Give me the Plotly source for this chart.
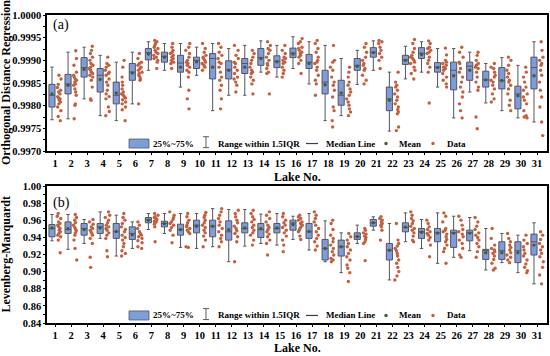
import plotly.graph_objects as go

LAKES = list(range(1, 32))
LAKE_LABELS = [str(k) for k in LAKES]

# ---------------- (a) Orthogonal Distance Regression ----------------
ODR_UF = [0.99885, 0.99918, 0.99929, 0.99911, 0.99896, 0.99918, 0.99941, 0.99937, 0.99937, 0.99929, 0.99937,
          0.99926, 0.99933, 0.99943, 0.99933, 0.99952, 0.99941, 0.99933, 0.99904, 0.99922, 0.99943, 0.99874,
          0.99931, 0.99941, 0.99926, 0.99926, 0.99918, 0.99893, 0.99906, 0.99889, 0.99941]
ODR_Q3 = [0.99847, 0.99869, 0.99906, 0.99882, 0.99852, 0.99893, 0.99926, 0.99918, 0.99911, 0.99907, 0.99915,
          0.99899, 0.99904, 0.99926, 0.99910, 0.99927, 0.99913, 0.99878, 0.99856, 0.99904, 0.99928, 0.99841,
          0.99911, 0.99928, 0.99895, 0.99896, 0.99896, 0.99876, 0.99884, 0.99843, 0.99907]
ODR_MED = [0.99823, 0.99848, 0.99884, 0.99867, 0.99823, 0.99874, 0.99917, 0.99909, 0.99894, 0.99900, 0.99904,
           0.99879, 0.99893, 0.99906, 0.99898, 0.99916, 0.99896, 0.99852, 0.99823, 0.99889, 0.99918, 0.99815,
           0.99901, 0.99916, 0.99885, 0.99878, 0.99887, 0.99857, 0.99856, 0.99826, 0.99884]
ODR_Q1 = [0.99797, 0.99826, 0.99863, 0.99830, 0.99804, 0.99856, 0.99901, 0.99896, 0.99874, 0.99882, 0.99859,
          0.99859, 0.99871, 0.99889, 0.99884, 0.99906, 0.99882, 0.99826, 0.99801, 0.99878, 0.99907, 0.99789,
          0.99891, 0.99904, 0.99874, 0.99835, 0.99856, 0.99841, 0.99837, 0.99793, 0.99837]
ODR_LF = [0.99769, 0.99771, 0.99815, 0.99778, 0.99767, 0.99804, 0.99878, 0.99878, 0.99841, 0.99867, 0.99789,
          0.99823, 0.99823, 0.99874, 0.99863, 0.99882, 0.99848, 0.99767, 0.99778, 0.99847, 0.99878, 0.99744,
          0.99859, 0.99874, 0.99841, 0.99773, 0.99830, 0.99806, 0.99789, 0.99773, 0.99764]
ODR_MEAN = [0.99826, 0.99845, 0.99880, 0.99858, 0.99828, 0.99872, 0.99914, 0.99907, 0.99885, 0.99897, 0.99885,
            0.99878, 0.99885, 0.99904, 0.99897, 0.99914, 0.99893, 0.99846, 0.99828, 0.99887, 0.99917, 0.99812,
            0.99900, 0.99913, 0.99884, 0.99866, 0.99878, 0.99857, 0.99855, 0.99822, 0.99866]
ODR_DATA = [
    [0.99867, 0.99859, 0.99847, 0.99840, 0.99834, 0.99830, 0.99826, 0.99820, 0.99817, 0.99815, 0.99812, 0.99808, 0.99804, 0.99797, 0.99789, 0.99776, 0.99767],
    [0.99921, 0.99904, 0.99889, 0.99874, 0.99867, 0.99863, 0.99859, 0.99856, 0.99852, 0.99848, 0.99845, 0.99837, 0.99830, 0.99823, 0.99804, 0.99801, 0.99771],
    [0.99931, 0.99922, 0.99915, 0.99907, 0.99900, 0.99893, 0.99889, 0.99885, 0.99882, 0.99878, 0.99874, 0.99871, 0.99867, 0.99863, 0.99856, 0.99841, 0.99815, 0.99812],
    [0.99907, 0.99893, 0.99889, 0.99885, 0.99878, 0.99874, 0.99871, 0.99867, 0.99859, 0.99852, 0.99845, 0.99834, 0.99826, 0.99820, 0.99815, 0.99797, 0.99787, 0.99778],
    [0.99900, 0.99885, 0.99863, 0.99852, 0.99845, 0.99837, 0.99830, 0.99826, 0.99823, 0.99820, 0.99817, 0.99813, 0.99808, 0.99804, 0.99797, 0.99791, 0.99767],
    [0.99915, 0.99904, 0.99896, 0.99893, 0.99889, 0.99885, 0.99882, 0.99878, 0.99874, 0.99871, 0.99867, 0.99863, 0.99859, 0.99856, 0.99804],
    [0.99944, 0.99941, 0.99937, 0.99933, 0.99929, 0.99926, 0.99922, 0.99918, 0.99915, 0.99911, 0.99907, 0.99904, 0.99900, 0.99896, 0.99882],
    [0.99937, 0.99929, 0.99922, 0.99918, 0.99915, 0.99911, 0.99907, 0.99904, 0.99900, 0.99896, 0.99893, 0.99882],
    [0.99937, 0.99929, 0.99922, 0.99915, 0.99907, 0.99900, 0.99896, 0.99893, 0.99889, 0.99885, 0.99878, 0.99874, 0.99863, 0.99834, 0.99815, 0.99793],
    [0.99937, 0.99926, 0.99918, 0.99911, 0.99907, 0.99904, 0.99900, 0.99896, 0.99893, 0.99889, 0.99885, 0.99878],
    [0.99937, 0.99929, 0.99918, 0.99911, 0.99904, 0.99896, 0.99893, 0.99885, 0.99874, 0.99863, 0.99856, 0.99845, 0.99834, 0.99815, 0.99793],
    [0.99933, 0.99922, 0.99911, 0.99904, 0.99896, 0.99893, 0.99885, 0.99878, 0.99871, 0.99863, 0.99859, 0.99852, 0.99845, 0.99830],
    [0.99922, 0.99915, 0.99907, 0.99900, 0.99893, 0.99885, 0.99878, 0.99874, 0.99871, 0.99863, 0.99856, 0.99848, 0.99826],
    [0.99941, 0.99933, 0.99926, 0.99922, 0.99915, 0.99907, 0.99900, 0.99893, 0.99889, 0.99882, 0.99874, 0.99871, 0.99826],
    [0.99933, 0.99922, 0.99915, 0.99907, 0.99904, 0.99900, 0.99896, 0.99893, 0.99885, 0.99878, 0.99871, 0.99863],
    [0.99948, 0.99941, 0.99937, 0.99929, 0.99926, 0.99922, 0.99918, 0.99915, 0.99911, 0.99907, 0.99900, 0.99893, 0.99871],
    [0.99944, 0.99937, 0.99926, 0.99918, 0.99907, 0.99900, 0.99896, 0.99893, 0.99885, 0.99878, 0.99867, 0.99856, 0.99848, 0.99823],
    [0.99933, 0.99900, 0.99896, 0.99885, 0.99878, 0.99863, 0.99852, 0.99845, 0.99834, 0.99819, 0.99797, 0.99789, 0.99767, 0.99753],
    [0.99885, 0.99874, 0.99863, 0.99852, 0.99845, 0.99837, 0.99830, 0.99823, 0.99815, 0.99808, 0.99801, 0.99793, 0.99786, 0.99778],
    [0.99937, 0.99929, 0.99918, 0.99907, 0.99900, 0.99893, 0.99889, 0.99882, 0.99878, 0.99867, 0.99856, 0.99848],
    [0.99944, 0.99941, 0.99937, 0.99929, 0.99922, 0.99915, 0.99907, 0.99900, 0.99882],
    [0.99874, 0.99852, 0.99845, 0.99841, 0.99834, 0.99826, 0.99819, 0.99812, 0.99804, 0.99797, 0.99791, 0.99786, 0.99782, 0.99753, 0.99745],
    [0.99946, 0.99937, 0.99926, 0.99918, 0.99911, 0.99907, 0.99904, 0.99900, 0.99896, 0.99893, 0.99885, 0.99878, 0.99871, 0.99859],
    [0.99943, 0.99937, 0.99929, 0.99926, 0.99922, 0.99918, 0.99915, 0.99907, 0.99900, 0.99893, 0.99885, 0.99874, 0.99806],
    [0.99927, 0.99912, 0.99900, 0.99896, 0.99893, 0.99889, 0.99885, 0.99882, 0.99878, 0.99871, 0.99863, 0.99856, 0.99848, 0.99841],
    [0.99929, 0.99918, 0.99907, 0.99896, 0.99893, 0.99882, 0.99874, 0.99863, 0.99852, 0.99841, 0.99830, 0.99819, 0.99804, 0.99789, 0.99773],
    [0.99918, 0.99911, 0.99900, 0.99893, 0.99889, 0.99885, 0.99882, 0.99874, 0.99863, 0.99852, 0.99841, 0.99834, 0.99775, 0.99749],
    [0.99893, 0.99885, 0.99882, 0.99874, 0.99867, 0.99863, 0.99856, 0.99852, 0.99845, 0.99837, 0.99826, 0.99815, 0.99808],
    [0.99907, 0.99900, 0.99889, 0.99878, 0.99871, 0.99863, 0.99856, 0.99852, 0.99845, 0.99837, 0.99826, 0.99812, 0.99801, 0.99789],
    [0.99885, 0.99874, 0.99863, 0.99852, 0.99841, 0.99834, 0.99826, 0.99819, 0.99812, 0.99804, 0.99789, 0.99778, 0.99775, 0.99773],
    [0.99941, 0.99922, 0.99907, 0.99900, 0.99893, 0.99889, 0.99878, 0.99867, 0.99852, 0.99834, 0.99819, 0.99797, 0.99764, 0.99734],
]

# ---------------- (b) Levenberg-Marquardt ----------------
LM_UF = [0.9667, 0.9667, 0.9609, 0.9698, 0.9659, 0.9581, 0.9678, 0.9678, 0.9678, 0.9678, 0.9736, 0.9725, 0.9725,
         0.9671, 0.9678, 0.9647, 0.9678, 0.9593, 0.9453, 0.9543, 0.9640, 0.9562, 0.9686, 0.9609, 0.9686, 0.9647,
         0.9632, 0.9504, 0.9446, 0.9426, 0.9570]
LM_Q3 = [0.9550, 0.9581, 0.9562, 0.9562, 0.9562, 0.9523, 0.9632, 0.9589, 0.9554, 0.9601, 0.9601, 0.9593, 0.9570,
         0.9562, 0.9562, 0.9601, 0.9562, 0.9376, 0.9368, 0.9453, 0.9609, 0.9329, 0.9570, 0.9504, 0.9504, 0.9484,
         0.9484, 0.9260, 0.9349, 0.9349, 0.9438]
LM_MED = [0.9504, 0.9492, 0.9504, 0.9523, 0.9465, 0.9446, 0.9609, 0.9562, 0.9492, 0.9543, 0.9531, 0.9465, 0.9504,
          0.9492, 0.9504, 0.9570, 0.9465, 0.9271, 0.9291, 0.9407, 0.9570, 0.9252, 0.9516, 0.9465, 0.9453, 0.9453,
          0.9453, 0.9244, 0.9244, 0.9244, 0.9349]
LM_Q1 = [0.9407, 0.9446, 0.9426, 0.9446, 0.9388, 0.9376, 0.9570, 0.9523, 0.9426, 0.9453, 0.9407, 0.9368, 0.9453,
         0.9399, 0.9453, 0.9484, 0.9388, 0.9136, 0.9182, 0.9376, 0.9531, 0.9136, 0.9465, 0.9388, 0.9349, 0.9283,
         0.9360, 0.9143, 0.9143, 0.9105, 0.9194]
LM_LF = [0.9360, 0.9260, 0.9329, 0.9388, 0.9182, 0.9271, 0.9492, 0.9446, 0.9283, 0.9271, 0.9291, 0.9116, 0.9298,
         0.9329, 0.9310, 0.9376, 0.9252, 0.9116, 0.8988, 0.9329, 0.9484, 0.8903, 0.9349, 0.9271, 0.9097, 0.9167,
         0.9244, 0.9019, 0.9105, 0.8988, 0.8857]
LM_MEAN = [0.951, 0.950, 0.949, 0.951, 0.947, 0.943, 0.960, 0.956, 0.949, 0.953, 0.953, 0.949, 0.951, 0.950, 0.951,
           0.955, 0.947, 0.927, 0.929, 0.941, 0.957, 0.925, 0.952, 0.946, 0.945, 0.945, 0.945, 0.922, 0.922, 0.922,
           0.931]
LM_DATA = [
    [0.9678, 0.9647, 0.9620, 0.9581, 0.9562, 0.9543, 0.9523, 0.9504, 0.9484, 0.9465, 0.9446, 0.9426, 0.9407, 0.9368, 0.9221],
    [0.9667, 0.9632, 0.9601, 0.9570, 0.9543, 0.9516, 0.9492, 0.9477, 0.9453, 0.9426, 0.9368, 0.9271, 0.9136],
    [0.9609, 0.9581, 0.9554, 0.9523, 0.9504, 0.9484, 0.9465, 0.9446, 0.9426, 0.9388, 0.9329, 0.9167, 0.9050],
    [0.9698, 0.9659, 0.9632, 0.9601, 0.9570, 0.9543, 0.9523, 0.9504, 0.9484, 0.9453, 0.9426, 0.9388, 0.9244, 0.9174],
    [0.9678, 0.9632, 0.9601, 0.9562, 0.9523, 0.9492, 0.9465, 0.9426, 0.9399, 0.9368, 0.9329, 0.9291, 0.9244, 0.9213, 0.9182],
    [0.9581, 0.9543, 0.9504, 0.9465, 0.9446, 0.9426, 0.9407, 0.9388, 0.9360, 0.9337, 0.9291, 0.9271],
    [0.9678, 0.9659, 0.9640, 0.9632, 0.9620, 0.9609, 0.9601, 0.9589, 0.9581, 0.9570, 0.9554, 0.9523, 0.9349],
    [0.9698, 0.9659, 0.9632, 0.9609, 0.9581, 0.9562, 0.9543, 0.9516, 0.9484, 0.9426, 0.9337],
    [0.9678, 0.9640, 0.9601, 0.9570, 0.9543, 0.9523, 0.9504, 0.9484, 0.9465, 0.9446, 0.9291, 0.9283],
    [0.9690, 0.9659, 0.9632, 0.9601, 0.9570, 0.9543, 0.9516, 0.9484, 0.9453, 0.9415, 0.9368, 0.9291],
    [0.9736, 0.9698, 0.9659, 0.9620, 0.9581, 0.9543, 0.9504, 0.9465, 0.9426, 0.9388, 0.9349, 0.9291],
    [0.9717, 0.9678, 0.9640, 0.9601, 0.9570, 0.9531, 0.9504, 0.9477, 0.9446, 0.9407, 0.9349, 0.9116],
    [0.9717, 0.9678, 0.9640, 0.9609, 0.9581, 0.9543, 0.9516, 0.9484, 0.9453, 0.9426, 0.9368, 0.9310],
    [0.9698, 0.9659, 0.9620, 0.9581, 0.9543, 0.9516, 0.9492, 0.9465, 0.9438, 0.9407, 0.9368, 0.9329, 0.9194],
    [0.9678, 0.9640, 0.9601, 0.9570, 0.9543, 0.9516, 0.9484, 0.9453, 0.9415, 0.9368, 0.9310, 0.9233],
    [0.9659, 0.9640, 0.9620, 0.9601, 0.9581, 0.9562, 0.9543, 0.9523, 0.9504, 0.9484, 0.9465, 0.9415, 0.9376],
    [0.9698, 0.9659, 0.9620, 0.9581, 0.9543, 0.9504, 0.9465, 0.9426, 0.9388, 0.9349, 0.9298, 0.9252],
    [0.9601, 0.9562, 0.9492, 0.9426, 0.9388, 0.9349, 0.9310, 0.9271, 0.9233, 0.9194, 0.9155, 0.9136, 0.9116],
    [0.9446, 0.9407, 0.9368, 0.9329, 0.9291, 0.9252, 0.9213, 0.9174, 0.9136, 0.9078, 0.9039, 0.8988, 0.8884],
    [0.9504, 0.9484, 0.9453, 0.9438, 0.9415, 0.9399, 0.9376, 0.9349, 0.9329, 0.9128],
    [0.9640, 0.9620, 0.9601, 0.9581, 0.9562, 0.9543, 0.9523, 0.9484, 0.9368],
    [0.9562, 0.9368, 0.9329, 0.9298, 0.9271, 0.9244, 0.9213, 0.9182, 0.9136, 0.9097, 0.9050, 0.9000, 0.8950, 0.8903],
    [0.9698, 0.9659, 0.9620, 0.9593, 0.9562, 0.9531, 0.9504, 0.9484, 0.9453, 0.9415, 0.9368, 0.9349],
    [0.9601, 0.9562, 0.9523, 0.9492, 0.9465, 0.9446, 0.9426, 0.9399, 0.9368, 0.9310, 0.9174],
    [0.9686, 0.9647, 0.9581, 0.9504, 0.9484, 0.9465, 0.9438, 0.9407, 0.9376, 0.9349, 0.9310, 0.9271, 0.9233, 0.9097],
    [0.9647, 0.9601, 0.9543, 0.9492, 0.9465, 0.9438, 0.9407, 0.9368, 0.9329, 0.9271, 0.9194, 0.9167],
    [0.9632, 0.9581, 0.9531, 0.9492, 0.9453, 0.9426, 0.9399, 0.9368, 0.9329, 0.9291, 0.9233, 0.9167],
    [0.9504, 0.9388, 0.9310, 0.9271, 0.9252, 0.9233, 0.9213, 0.9182, 0.9143, 0.9097, 0.9039, 0.9019],
    [0.9446, 0.9388, 0.9349, 0.9310, 0.9283, 0.9252, 0.9221, 0.9194, 0.9167, 0.9136, 0.9105],
    [0.9426, 0.9368, 0.9329, 0.9291, 0.9252, 0.9213, 0.9182, 0.9136, 0.9089, 0.9050, 0.9012, 0.8988],
    [0.9465, 0.9426, 0.9376, 0.9329, 0.9291, 0.9252, 0.9213, 0.9174, 0.9116, 0.9050, 0.8961, 0.8857],
]

ODR_TICKS = [0.9970, 0.9975, 0.9980, 0.9985, 0.9990, 0.9995, 1.0000]
LM_TICKS = [0.84, 0.86, 0.88, 0.90, 0.92, 0.94, 0.96, 0.98, 1.00]

# ---------------- styling ----------------
FONT = "Liberation Serif"
BOX_FILL = "rgb(128,155,218)"
BOX_LINE = "rgb(85,85,95)"
PT_COLOR = "rgb(196,96,62)"
MEAN_COLOR = "rgb(70,90,60)"
BOX_SHIFT = -0.19
PT_SHIFT = 0.27

fig = go.Figure()

panels = [
    (ODR_Q1, ODR_MED, ODR_Q3, ODR_LF, ODR_UF, ODR_MEAN, ODR_DATA, "x", "y"),
    (LM_Q1, LM_MED, LM_Q3, LM_LF, LM_UF, LM_MEAN, LM_DATA, "x2", "y2"),
]

for q1, med, q3, lf, uf, mean, data, xa, ya in panels:
    fig.add_trace(go.Box(
        x=[k + BOX_SHIFT for k in LAKES], q1=q1, median=med, q3=q3,
        lowerfence=lf, upperfence=uf, width=0.38, whiskerwidth=0.55,
        fillcolor=BOX_FILL, line=dict(color=BOX_LINE, width=1),
        boxpoints=False, showlegend=False, xaxis=xa, yaxis=ya, hoverinfo="skip"))
    xs, ys = [], []
    for k, pts in zip(LAKES, data):
        xs += [k + PT_SHIFT] * len(pts)
        ys += pts
    fig.add_trace(go.Box(
        x=xs, y=ys, boxpoints="all", jitter=1.0, pointpos=0, width=0.3,
        fillcolor="rgba(0,0,0,0)", line=dict(color="rgba(0,0,0,0)", width=0),
        marker=dict(color=PT_COLOR, size=3.4), showlegend=False,
        xaxis=xa, yaxis=ya, hoverinfo="skip"))

for q1, med, q3, lf, uf, mean, data, xa, ya in panels:
    fig.add_trace(go.Scatter(
        x=[k + BOX_SHIFT for k in LAKES], y=mean, mode="markers",
        marker=dict(color=MEAN_COLOR, size=3.4), showlegend=False,
        xaxis=xa, yaxis=ya, hoverinfo="skip"))

xtickfont = dict(family=FONT, size=10.5, color="black", weight="bold")
ytickfont = dict(family=FONT, size=10.5, color="black", weight="bold")
xcommon = dict(range=[0.5, 31.62], tickvals=LAKES, ticktext=LAKE_LABELS, showline=True, linewidth=1.5,
               linecolor="black", mirror=True, ticks="outside", ticklen=2, tickcolor="black",
               tickfont=xtickfont, showgrid=False, zeroline=False, automargin=False)
ycommon = dict(showline=True, linewidth=1.5, linecolor="black", mirror=True, ticks="outside", ticklen=2,
               tickcolor="black", tickfont=ytickfont, showgrid=False, zeroline=False, automargin=False)

fig.update_layout(
    width=550, height=356, template="none",
    paper_bgcolor="white", plot_bgcolor="white",
    margin=dict(l=47, r=3, t=15, b=33),
    showlegend=False,
    xaxis=dict(domain=[0, 1], anchor="y", **xcommon),
    yaxis=dict(domain=[0.5584, 1], anchor="x", range=[0.9970, 1.0000], tickvals=ODR_TICKS,
               tickformat=".4f", minor=dict(dtick=0.00025, ticks="outside", ticklen=2, tickcolor="black"),
               **ycommon),
    xaxis2=dict(domain=[0, 1], anchor="y2", **xcommon),
    yaxis2=dict(domain=[0, 0.4448], anchor="x2", range=[0.84, 1.00], tickvals=LM_TICKS,
                tickformat=".2f", minor=dict(dtick=0.01, ticks="outside", ticklen=2, tickcolor="black"),
                **ycommon),
)

ann = []
shapes = []
lab_font = dict(family=FONT, size=12, color="black", weight="bold")
leg_font = dict(family=FONT, size=9, color="black", weight="bold")

# axis titles
ann.append(dict(text="Orthogonal Distance Regression", xref="paper", yref="paper", x=-0.082, y=0.779,
                textangle=-90, showarrow=False, font=lab_font, xanchor="center", yanchor="middle"))
ann.append(dict(text="Levenberg-Marquardt", xref="paper", yref="paper", x=-0.082, y=0.2224,
                textangle=-90, showarrow=False, font=lab_font, xanchor="center", yanchor="middle"))
ann.append(dict(text="Lake No.", xref="paper", yref="paper", x=0.5, y=0.4756, showarrow=False,
                font=lab_font, xanchor="center", yanchor="middle"))
ann.append(dict(text="Lake No.", xref="paper", yref="paper", x=0.5, y=-0.0825, showarrow=False,
                font=lab_font, xanchor="center", yanchor="middle"))

for label, xr, yr, ly in [("(a)", "x domain", "y domain", 0.93), ("(b)", "x2 domain", "y2 domain", 0.875)]:
    ann.append(dict(text=label, xref=xr, yref=yr, x=0.008, y=ly, showarrow=False, xanchor="left",
                    yanchor="middle", font=dict(family=FONT, size=14, color="black")))
    yc = 0.055
    # box icon
    shapes.append(dict(type="rect", xref=xr, yref=yr, x0=0.164, x1=0.204, y0=yc - 0.033, y1=yc + 0.033,
                       fillcolor="rgb(120,160,218)", line=dict(color=BOX_LINE, width=0.8)))
    ann.append(dict(text="25%~75%", xref=xr, yref=yr, x=0.208, y=yc, showarrow=False, xanchor="left",
                    yanchor="middle", font=leg_font))
    # whisker icon
    shapes.append(dict(type="line", xref=xr, yref=yr, x0=0.318, x1=0.318, y0=yc - 0.03, y1=yc + 0.05,
                       line=dict(color="rgb(90,90,90)", width=1)))
    shapes.append(dict(type="line", xref=xr, yref=yr, x0=0.312, x1=0.324, y0=yc + 0.05, y1=yc + 0.05,
                       line=dict(color="rgb(90,90,90)", width=1)))
    shapes.append(dict(type="line", xref=xr, yref=yr, x0=0.312, x1=0.324, y0=yc - 0.03, y1=yc - 0.03,
                       line=dict(color="rgb(90,90,90)", width=1)))
    ann.append(dict(text="Range within 1.5IQR", xref=xr, yref=yr, x=0.338, y=yc, showarrow=False,
                    xanchor="left", yanchor="middle", font=leg_font))
    # median line icon
    shapes.append(dict(type="line", xref=xr, yref=yr, x0=0.518, x1=0.542, y0=yc, y1=yc,
                       line=dict(color="rgb(60,60,80)", width=1.2)))
    ann.append(dict(text="Median Line", xref=xr, yref=yr, x=0.554, y=yc, showarrow=False,
                    xanchor="left", yanchor="middle", font=leg_font))
    # mean dot
    shapes.append(dict(type="circle", xref=xr, yref=yr, x0=0.6745, x1=0.6815, y0=yc - 0.013, y1=yc + 0.013,
                       fillcolor=MEAN_COLOR, line=dict(width=0)))
    ann.append(dict(text="Mean", xref=xr, yref=yr, x=0.700, y=yc, showarrow=False,
                    xanchor="left", yanchor="middle", font=leg_font))
    # data dot
    shapes.append(dict(type="circle", xref=xr, yref=yr, x0=0.7685, x1=0.7755, y0=yc - 0.013, y1=yc + 0.013,
                       fillcolor=PT_COLOR, line=dict(width=0)))
    ann.append(dict(text="Data", xref=xr, yref=yr, x=0.796, y=yc, showarrow=False,
                    xanchor="left", yanchor="middle", font=leg_font))

fig.update_layout(annotations=ann, shapes=shapes)

fig.write_html("out.html", config={"displayModeBar": False},
               post_script="document.body.style.margin='0';document.body.style.padding='0';")
